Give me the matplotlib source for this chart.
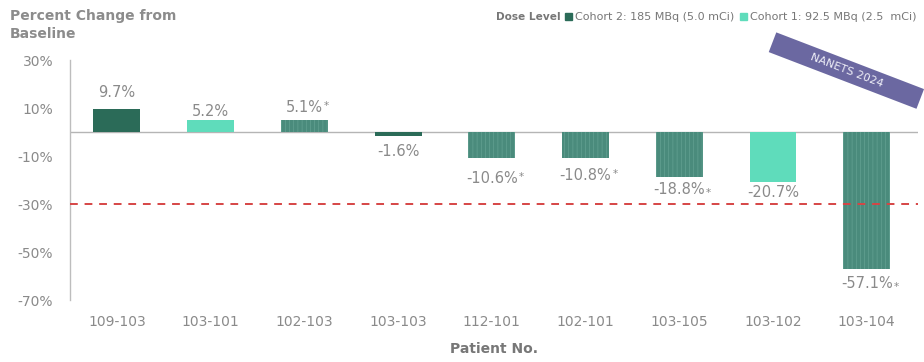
import matplotlib
matplotlib.use("Agg")
import matplotlib.pyplot as plt
from matplotlib.patches import Patch

# Waterfall data: percent change from baseline per patient
patients = ["109-103", "103-101", "102-103", "103-103", "112-101",
            "102-101", "103-105", "103-102", "103-104"]
pct_change = [9.7, 5.2, 5.1, -1.6, -10.6, -10.8, -18.8, -20.7, -57.1]
cohort = [2, 1, 2, 2, 2, 2, 2, 1, 2]
flagged = [False, False, True, False, True, True, True, False, True]
threshold = -30
yticks = [30, 10, -10, -30, -50, -70]
legend_labels = {2: "Cohort 2: 185 MBq (5.0 mCi)", 1: "Cohort 1: 92.5 MBq (2.5  mCi)"}

# gap (pixels) between each bar end and its value label
label_gap_px = [12, 4, 8, 8, 13, 10, 5, 3, 7]

DARK = "#2b6b58"
STRIPED = "#4a8b7c"
LIGHT = "#5fdcbb"
GRAY = "#8a8a8a"

plt.rcParams["font.family"] = ["DejaVu Sans"]
plt.rcParams["hatch.linewidth"] = 0.4

fig = plt.figure(figsize=(9.24, 3.62), dpi=100)
ax = fig.add_axes([0.0758, 0.171, 0.918, 0.663])

x = list(range(len(patients)))
value_texts = []
for i, (v, c, f, g) in enumerate(zip(pct_change, cohort, flagged, label_gap_px)):
    if c == 1:
        ax.bar(i, v, width=0.5, color=LIGHT, linewidth=0, zorder=2)
    elif f:
        ax.bar(i, v, width=0.5, color=STRIPED, edgecolor="#6aa798",
               hatch="||||", linewidth=0, zorder=2)
    else:
        ax.bar(i, v, width=0.5, color=DARK, linewidth=0, zorder=2)

    off = g * 0.72
    if v >= 0:
        t = ax.annotate(f"{v:.1f}%", (i, v), xytext=(0, off), textcoords="offset points",
                        ha="center", va="baseline", fontsize=10.5, color=GRAY)
    else:
        t = ax.annotate(f"{v:.1f}%", (i, v), xytext=(0, -off), textcoords="offset points",
                        ha="center", va="top", fontsize=10.5, color=GRAY)
    value_texts.append(t)

# baseline and response threshold
ax.axhline(0, color="#b5b5b5", linewidth=1.0, zorder=1)
ax.axhline(threshold, color="#d64545", linewidth=1.4, linestyle=(0, (4, 3.5)), zorder=3)

ax.set_xlim(-0.5, 8.55)
ax.set_ylim(-70, 30)
ax.set_yticks(yticks)
ax.set_yticklabels([f"{t}%" for t in yticks])
ax.set_xticks(x)
ax.set_xticklabels(patients)
ax.tick_params(axis="both", length=0, labelsize=10, labelcolor=GRAY)
ax.tick_params(axis="x", pad=11)
ax.tick_params(axis="y", pad=12)
for s in ["top", "right", "bottom"]:
    ax.spines[s].set_visible(False)
ax.spines["left"].set_color("#bdbdbd")
ax.spines["left"].set_linewidth(1.0)

ax.set_xlabel("Patient No.", fontsize=10, color="#777777", fontweight="bold", labelpad=9)

fig.text(0.011, 0.975, "Percent Change from\nBaseline", ha="left", va="top",
         fontsize=10, fontweight="bold", color="#8c8c8c", linespacing=1.4)

# legend
handles = [Patch(color=DARK, label=legend_labels[2]),
           Patch(color=LIGHT, label=legend_labels[1])]
fig.legend(handles=handles, ncol=2, loc="center right", bbox_to_anchor=(1.003, 0.953),
           frameon=False, fontsize=8, handlelength=0.6, handleheight=0.6,
           handletextpad=0.3, columnspacing=0.5, labelcolor="#777777")
fig.text(0.537, 0.953, "Dose Level", ha="left", va="center", fontsize=7.6,
         fontweight="bold", color="#777777")

# conference banner
fig.text(0.916, 0.805, "          NANETS 2024          ", rotation=-21, ha="center",
         va="center", rotation_mode="anchor", fontsize=8, color="#f0f0f8",
         bbox=dict(boxstyle="square,pad=0.5", facecolor="#6b68a1", edgecolor="none"))

# asterisks next to flagged values
fig.canvas.draw()
renderer = fig.canvas.get_renderer()
for t, v, f in zip(value_texts, pct_change, flagged):
    if not f:
        continue
    bb = t.get_window_extent(renderer)
    if v > -15:
        fig.text(bb.x1 + 1, bb.y1 - 1, "*", transform=None, ha="left", va="top",
                 fontsize=7.5, color=GRAY)
    else:
        fig.text(bb.x1 + 1, bb.y0 + 0.3 * bb.height, "*", transform=None, ha="left",
                 va="center", fontsize=7.5, color=GRAY)

fig.savefig("out.png", dpi=100)
